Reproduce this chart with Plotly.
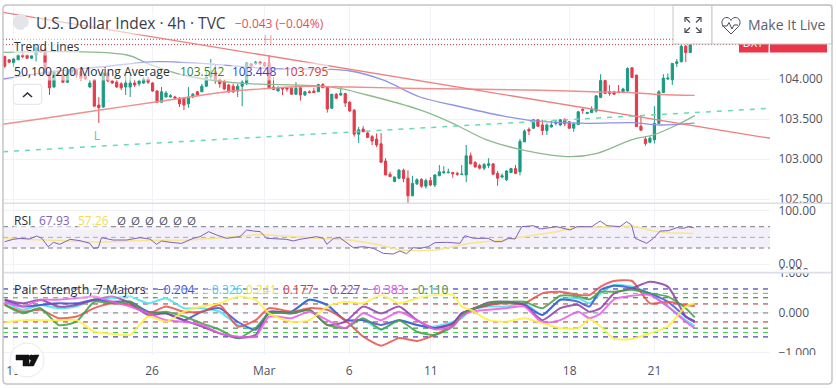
import plotly.graph_objects as go

W, H = 836, 388
FONT = "Open Sans"

open_ = [104.28,104.24,104.20,104.24,104.30,104.30,104.26,104.30,104.36,104.36,
 104.075,103.90,104.10,104.06,103.96,104.09,104.11,104.09,104.04,103.90,
 103.99,103.675,103.65,104.075,103.975,103.96,103.94,103.90,103.90,103.95,
 103.94,103.95,104.00,103.95,103.85,103.71,103.775,103.775,103.775,103.76,
 103.76,103.69,103.775,103.84,103.84,103.91,104.025,104.09,103.99,103.96,
 103.925,103.91,103.85,103.91,103.94,104.19,104.19,104.21,104.20,104.20,
 103.90,103.85,103.89,103.89,103.885,103.81,103.89,103.80,103.84,103.85,
 103.84,103.93,103.90,103.635,103.81,103.80,103.82,103.71,103.61,103.31,
 103.375,103.325,103.28,103.25,103.19,102.975,102.81,102.72,102.76,102.86,
 102.76,102.54,102.69,102.745,102.66,102.73,102.675,102.79,102.83,102.83,
 102.83,102.82,102.805,102.80,103.04,102.955,102.92,102.885,102.92,102.94,
 102.82,102.775,102.74,102.83,102.88,102.84,103.215,103.37,103.385,103.49,
 103.425,103.355,103.40,103.445,103.425,103.495,103.465,103.385,103.43,103.62,
 103.57,103.58,103.60,103.77,103.98,103.84,103.84,103.84,103.83,103.85,
 104.14,104.05,103.41,103.25,103.21,103.24,103.445,103.83,104.00,103.99,
 104.195,104.215,104.41,104.33]
high = [104.29,104.25,104.26,104.31,104.36,104.31,104.30,104.41,104.375,104.40,
 104.09,104.11,104.11,104.09,104.14,104.15,104.14,104.11,104.06,103.99,
 104.00,103.775,104.09,104.09,103.99,103.99,103.96,104.075,104.075,103.99,
 103.99,104.025,104.025,103.96,103.86,103.90,103.85,103.81,103.79,103.775,
 103.775,103.90,103.825,103.85,103.94,104.11,104.25,104.175,104.01,103.99,
 103.94,103.94,103.94,103.99,104.21,104.20,104.225,104.225,104.21,104.30,
 104.025,103.91,103.90,103.90,103.90,103.96,103.90,103.85,103.86,103.89,
 103.94,103.95,103.91,103.81,103.825,103.90,103.825,103.725,103.625,103.40,
 103.41,103.34,103.30,103.32,103.325,103.01,102.84,102.78,102.875,102.88,
 102.86,102.79,102.76,102.76,102.755,102.775,102.81,102.925,102.91,102.88,
 102.84,102.84,102.925,103.175,103.08,102.975,102.94,102.95,103.01,102.94,
 102.85,102.82,102.86,102.89,102.925,103.25,103.37,103.395,103.50,103.495,
 103.49,103.445,103.48,103.475,103.50,103.51,103.475,103.455,103.60,103.645,
 103.59,103.66,103.795,104.06,103.99,103.925,103.85,103.925,103.89,104.145,
 104.15,104.05,103.545,103.28,103.29,103.66,103.86,104.06,104.07,104.20,
 104.25,104.425,104.425,104.44]
low = [104.14,104.20,104.15,104.24,104.26,104.25,104.25,104.22,104.325,104.06,
 103.80,103.89,104.05,103.95,103.95,104.04,104.01,103.975,103.99,103.89,
 103.66,103.45,103.64,103.96,103.94,103.89,103.86,103.80,103.775,103.90,
 103.91,103.94,103.94,103.84,103.70,103.71,103.775,103.77,103.75,103.65,
 103.61,103.64,103.76,103.79,103.84,103.90,103.99,103.94,103.89,103.86,
 103.825,103.825,103.775,103.66,103.925,104.15,104.175,104.175,104.15,103.89,
 103.86,103.85,103.80,103.84,103.80,103.80,103.73,103.79,103.825,103.825,
 103.84,103.89,103.58,103.625,103.75,103.79,103.65,103.59,103.28,103.20,
 103.34,103.26,103.175,103.15,102.95,102.80,102.775,102.71,102.75,102.71,
 102.45,102.54,102.675,102.64,102.63,102.66,102.65,102.79,102.81,102.82,
 102.765,102.79,102.80,102.71,102.93,102.895,102.87,102.86,102.885,102.80,
 102.665,102.76,102.725,102.825,102.81,102.795,103.21,103.30,103.375,103.40,
 103.30,103.30,103.395,103.42,103.41,103.41,103.375,103.34,103.425,103.565,
 103.56,103.575,103.58,103.76,103.815,103.79,103.80,103.825,103.825,103.84,
 104.01,103.40,103.355,103.165,103.195,103.195,103.44,103.83,103.99,103.925,
 104.15,104.21,104.21,104.325]
close = [104.16,104.21,104.25,104.30,104.28,104.26,104.29,104.39,104.34,104.075,
 103.89,104.09,104.06,103.96,104.11,104.14,104.05,104.01,104.00,103.95,
 103.66,103.64,104.075,103.975,103.95,103.90,103.89,103.95,103.95,103.925,
 103.975,104.00,103.96,103.85,103.71,103.84,103.825,103.79,103.76,103.69,
 103.675,103.775,103.81,103.80,103.91,104.025,104.06,103.99,103.94,103.875,
 103.84,103.84,103.91,103.96,104.20,104.16,104.21,104.19,104.16,103.89,
 103.87,103.89,103.875,103.875,103.81,103.885,103.80,103.84,103.83,103.83,
 103.93,103.89,103.625,103.81,103.76,103.82,103.70,103.60,103.31,103.365,
 103.34,103.27,103.225,103.175,102.96,102.80,102.78,102.775,102.86,102.755,
 102.54,102.695,102.74,102.66,102.73,102.675,102.80,102.84,102.84,102.835,
 102.815,102.81,102.81,103.04,102.94,102.90,102.885,102.93,102.94,102.81,
 102.76,102.79,102.85,102.88,102.82,103.22,103.35,103.35,103.49,103.41,
 103.355,103.425,103.425,103.46,103.49,103.44,103.385,103.44,103.59,103.61,
 103.58,103.62,103.79,103.98,103.82,103.82,103.81,103.83,103.875,104.13,
 104.02,103.405,103.36,103.195,103.26,103.445,103.84,104.01,104.01,104.195,
 104.215,104.41,104.33,104.43]

ma_red_x = [-0.4,10.1,21.3,34,43.6,50.9,58.8,65.9,77.1,92.7,106,119.5,132.9,139.5,146.2,154]
ma_red_y = [103.434,103.519,103.613,103.716,103.794,103.85,103.881,103.906,103.90,103.881,103.871,103.859,103.838,103.831,103.806,103.795]
ma_blue_x = [-0.4,10.1,21.3,33.1,43.6,58.5,77.1,84.4,92.7,100,111.2,117.9,129.9,140.2,146.2,154]
ma_blue_y = [104.0,104.09,104.15,104.215,104.195,104.133,104.1,103.988,103.775,103.675,103.538,103.479,103.446,103.454,103.425,103.448]
ma_green_x = [-0.4,27.3,31.8,39.8,50.9,73.3,80.9,92.7,100,107.6,115,126.2,132.2,140.2,144.7,150,154]
ma_green_y = [104.334,104.3,104.196,104.05,103.954,103.896,103.8,103.613,103.446,103.238,103.121,103.029,103.071,103.246,103.3,103.425,103.542]

X_LEFT, X_RIGHT = -0.38, 170.8
trend_red_y = [104.834, 103.259]
trend_green_y = [103.091, 103.634]
dotted_levels = [104.43, 104.497]
last_price = 104.43
price_ticks = [102.5, 103.0, 103.5, 104.0]

rsi_x = [0,1.9,3.4,5.6,7.1,8.3,9.7,10.9,12.3,14.6,16.8,19,19.8,20.9,21.6,24.2,27.2,30.2,32.4,33.9,35,36.9,39.5,42.1,43.6,45.5,47.3,49.5,52.5,54,55.5,57,58.5,62.9,64.4,65.9,69.6,71.1,71.9,73.4,74.8,77.8,80,82.3,84.5,86.7,88.2,89.7,91.2,92.7,94.5,96,98.6,101.6,102.7,104.6,107.9,109.4,110.9,112.4,113.9,115.4,118,119.5,123.2,126.2,127.7,131,132.9,134.4,137.3,138.8,139.9,140.7,143.3,144.8,146.3,148.1,150,151.5,152.6,153.8]
rsi_y = [41.9,46.3,48.2,46.9,52.5,48.2,32.5,40.7,36.9,46.3,43.8,38.8,29.4,30.6,49.4,45,45,49.4,46.9,36.9,43.2,40.7,38.8,48.2,51.3,60.7,54.4,48.2,51.3,63.8,61.9,60.7,48.2,46.3,43.2,46.3,51.3,48.2,36.9,48.2,49.4,30.6,32.5,29.4,20,18.8,24.4,19.4,30.6,29.4,32.5,40,40.7,38.8,53.2,48.2,48.2,41.9,41.9,48.2,46.9,70,71.9,65.7,70,63.8,70,70,80.7,71.9,70,79.4,73.2,48.2,38.8,48.2,61.9,62.5,68.2,66.9,70,67.93]
rsi_ma_x = [0,3.4,9.4,21.3,28.7,40.6,47.3,57,69.6,77.1,83,88.2,92.7,96.4,100.1,103.8,111.3,118,123.2,126.9,133.6,140.3,144.8,147.7,153.8]
rsi_ma_y = [48.2,46.3,45,40.7,43.8,45,48.2,55.7,48.2,45,36.9,26.3,25,26.3,32.5,38.8,45,54.4,60.7,68.2,70,71.3,61.9,58.8,57.26]
rsi_levels = [70, 50, 30]
rsi_ticks = [0, 100]

pair_x = [0,4,8,12,16,20,24,28,32,36,40,44,48,52,56,59,64,68,72,76,80,84,88,92,96,100,102,104,108,112,116,120,124,128,130.5,133,136,140,144,148,152,154]
pair_blue = [.33,.16,.20,.24,.24,.33,.28,.28,.03,-.01,-.18,.03,.12,-.22,-.42,-.01,.03,.33,.20,-.18,-.18,-.30,-.18,-.30,-.38,-.26,-.01,.08,.20,.26,.20,-.05,.33,.28,.16,.58,.68,.62,.49,.28,-.09,-.204]
pair_cyan = [.28,.08,.20,.12,.16,.33,.37,.41,.24,.37,.12,.12,.03,-.30,-.38,-.01,.03,.34,.18,-.18,-.18,-.42,-.18,-.30,-.34,-.22,-.13,.08,.16,.16,.24,-.05,.33,.37,.24,.49,.70,.66,.49,.16,-.18,-.326]
pair_yellow = [-.23,-.18,-.18,-.18,-.18,-.47,-.52,-.55,-.09,-.22,.03,.16,.24,.41,.33,-.01,-.22,-.18,.16,.28,.24,.45,.24,.37,.45,.45,.16,.08,-.18,-.22,-.13,-.26,-.38,-.38,-.16,-.34,-.65,-.65,-.51,-.34,.16,.241]
pair_red = [.20,.03,.08,-.13,-.09,.12,.24,.20,-.01,.16,.03,.03,.20,-.34,-.18,.12,.03,.12,.08,-.18,-.59,-.82,-.63,-.70,-.55,-.30,-.05,.08,.20,.24,.24,.49,.53,.45,.45,.66,.80,.80,.24,.28,.20,.177]
pair_purple = [.33,.24,.33,.16,.20,.33,.41,.24,-.05,-.01,-.18,-.34,-.51,-.63,-.55,.03,-.01,.08,-.30,-.22,.16,-.01,.16,-.18,-.38,-.26,-.01,.08,.26,.28,.20,-.18,.12,.20,.03,.12,.49,.62,.78,.66,-.09,-.227]
pair_magenta = [.28,.16,.33,.33,.37,.41,.28,.16,-.01,-.18,-.22,-.30,-.51,-.59,-.59,-.09,-.13,.03,-.18,-.38,-.01,-.18,.03,-.18,-.41,-.34,-.09,.03,.08,.12,.16,-.24,-.18,.03,-.13,-.01,.34,.43,.45,.16,-.22,-.383]
pair_green = [.20,-.01,.12,-.30,-.22,.28,.24,.28,-.01,.03,-.09,-.26,-.42,-.63,-.38,-.01,-.01,.08,-.30,-.38,-.13,-.41,-.18,-.47,-.55,-.34,-.05,.08,.24,.28,.28,.12,.43,.41,.34,.53,.53,.58,.49,.41,.12,-.11]
pair_series = [("#45e0f0",pair_cyan),("#3f4fd8",pair_blue),("#e8504a",pair_red),
               ("#8e3fa8",pair_purple),("#43a047",pair_green),("#e85be8",pair_magenta),("#fff03d",pair_yellow)]
pair_levels = [(.6,"#1616a8"),(.49,"#3ed13e"),(.38,"#157a15"),(.225,"#c02020"),(0,"#777777"),
               (-.225,"#c02020"),(-.38,"#157a15"),(-.49,"#3ed13e"),(-.6,"#1616a8")]
pair_ticks = [-1, 0, 1]

time_tick_pos = [1.9,32.9,57.9,76.9,95.1,126.1,145]
time_tick_txt = ["19","26","Mar","6","11","18","21"]

fig = go.Figure()
def px(x): return x / W
def py(y): return 1 - y / H

lvl_x = [X_LEFT, X_RIGHT]
for lv in dotted_levels:
    fig.add_trace(go.Scatter(x=lvl_x, y=[lv, lv], mode="lines", line=dict(color="#b4403f", width=1, dash="1px,2px"), yaxis="y"))

fig.add_trace(go.Scatter(x=ma_green_x, y=ma_green_y, mode="lines", line=dict(color="#8db98d", width=1.3, shape="spline"), yaxis="y"))
fig.add_trace(go.Scatter(x=ma_blue_x, y=ma_blue_y, mode="lines", line=dict(color="#8f93e2", width=1.3, shape="spline"), yaxis="y"))
fig.add_trace(go.Scatter(x=ma_red_x, y=ma_red_y, mode="lines", line=dict(color="#ee8f8f", width=1.4, shape="spline"), yaxis="y"))
fig.add_trace(go.Scatter(x=lvl_x, y=trend_red_y, mode="lines", line=dict(color="#ee7f7f", width=1.3), yaxis="y"))
fig.add_trace(go.Scatter(x=lvl_x, y=trend_green_y, mode="lines", line=dict(color="#66dcae", width=1.5, dash="5px,6px"), yaxis="y"))

fig.add_trace(go.Candlestick(x=list(range(len(open_))), open=open_, high=high, low=low, close=close,
    increasing=dict(line=dict(color="#1a9a82", width=1), fillcolor="#1a9a82"),
    decreasing=dict(line=dict(color="#e23c4c", width=1), fillcolor="#e23c4c"),
    whiskerwidth=0, yaxis="y", xaxis="x"))

fig.add_trace(go.Scatter(x=[58.8, 20.6], y=[104.475, 103.275], mode="text", text=["H", "L"],
    textfont=dict(family=FONT, size=12, color=["#f0a5a5", "#5cc8a0"]), yaxis="y"))
fig.add_trace(go.Scatter(x=[167, 177], y=[last_price, last_price], mode="text", text=["DXY", f"{last_price:.3f}"],
    textfont=dict(family=FONT, size=11, color="white"), cliponaxis=False, yaxis="y"))

for lv in rsi_levels:
    fig.add_trace(go.Scatter(x=lvl_x, y=[lv, lv], mode="lines", yaxis="y2",
        line=dict(color="#787b86" if lv != 50 else "#a9acb5", width=1, dash="5px,4px")))
fig.add_trace(go.Scatter(x=rsi_ma_x, y=rsi_ma_y, mode="lines", line=dict(color="#f8e58c", width=1.5), yaxis="y2"))
fig.add_trace(go.Scatter(x=rsi_x, y=rsi_y, mode="lines", line=dict(color="#7e62b8", width=1), yaxis="y2"))

for lv, c in pair_levels:
    fig.add_trace(go.Scatter(x=lvl_x, y=[lv, lv], mode="lines", yaxis="y3", line=dict(color=c, width=1, dash="5px,5px")))
for c, vals in pair_series:
    fig.add_trace(go.Scatter(x=pair_x, y=vals, mode="lines", yaxis="y3", opacity=0.85,
        line=dict(color=c, width=2, shape="spline", smoothing=0.6)))

axis_font = dict(family=FONT, size=12, color="#50535e")
grid = "#f0f2f7"
def rect(x0, y0, x1, y1, fill=None, line=None, lw=1, layer="above"):
    return dict(type="rect", xref="paper", yref="paper", x0=px(x0), x1=px(x1), y0=py(y0), y1=py(y1),
                fillcolor=fill or "rgba(0,0,0,0)", line=dict(color=line or "rgba(0,0,0,0)", width=lw if line else 0), layer=layer)
def path(pts, color="#4a4d57", lw=1.2, fill=None, close_path=False):
    s = "M " + " L ".join(f"{px(a):.5f} {py(b):.5f}" for a, b in pts) + (" Z" if close_path else "")
    return dict(type="path", xref="paper", yref="paper", path=s, layer="above",
                fillcolor=fill or "rgba(0,0,0,0)", line=dict(color=color, width=lw))
def circle(cx, cy, r, fill, line=None):
    return dict(type="circle", xref="paper", yref="paper", x0=px(cx-r), x1=px(cx+r), y0=py(cy+r), y1=py(cy-r),
                fillcolor=fill, line=dict(color=line or fill, width=1), layer="above")
def rounded(x0, y0, x1, y1, r, line, lw=1.5, fill="rgba(0,0,0,0)"):
    s = (f"M {px(x0+r)} {py(y0)} L {px(x1-r)} {py(y0)} Q {px(x1)} {py(y0)} {px(x1)} {py(y0+r)} "
         f"L {px(x1)} {py(y1-r)} Q {px(x1)} {py(y1)} {px(x1-r)} {py(y1)} L {px(x0+r)} {py(y1)} "
         f"Q {px(x0)} {py(y1)} {px(x0)} {py(y1-r)} L {px(x0)} {py(y0+r)} Q {px(x0)} {py(y0)} {px(x0+r)} {py(y0)} Z")
    return dict(type="path", xref="paper", yref="paper", path=s, layer="above", fillcolor=fill, line=dict(color=line, width=lw))

shapes = [
    dict(type="rect", xref="paper", yref="y2", x0=px(3), x1=px(770), y0=30, y1=70,
         fillcolor="rgba(126,87,194,0.09)", line=dict(width=0), layer="below"),
    rect(739, 37, 768.5, 52.5, fill="#ec3548", layer="below"),
    rect(770, 37, 827, 52.5, fill="#ec3548", layer="below"),
    rect(771, 203, 832, 205.5, fill="white"),
    rect(771, 269.5, 832, 272.5, fill="white"),
    rect(771, 355, 832, 362, fill="white"),
    path([(4, 203.3), (832, 203.3)], color="#dcdfe6", lw=1.6),
    path([(4, 272.6), (832, 272.6)], color="#dcdfe6", lw=1.6),
    rect(673, 5, 712, 44, fill="white", line="#c9c9c9", lw=1),
    rect(712, 5, 832, 44, fill="white", line="#c9c9c9", lw=1),
    rounded(3, 5, 832, 384, 4, "#c5c5c5", 1.5),
    # full-screen icon
    path([(685, 22), (685, 17.5), (689.5, 17.5)]), path([(685.5, 18), (690, 22.5)]),
    path([(696.5, 17.5), (701, 17.5), (701, 22)]), path([(700.5, 18), (696, 22.5)]),
    path([(685, 28), (685, 32.5), (689.5, 32.5)]), path([(685.5, 32), (690, 27.5)]),
    path([(696.5, 32.5), (701, 32.5), (701, 28)]), path([(700.5, 32), (696, 27.5)]),
    # heart icon
    dict(type="path", xref="paper", yref="paper", layer="above", fillcolor="rgba(0,0,0,0)", line=dict(color="#4a4d57", width=1),
         path=(f"M {px(731)} {py(34)} L {px(723.5)} {py(26.5)} C {px(720)} {py(22)} {px(723)} {py(17)} {px(727)} {py(17.5)} "
               f"C {px(729)} {py(17.8)} {px(730.5)} {py(19)} {px(731)} {py(20.5)} C {px(731.5)} {py(19)} {px(733)} {py(17.8)} {px(735)} {py(17.5)} "
               f"C {px(739)} {py(17)} {px(742)} {py(22)} {px(738.5)} {py(26.5)} Z")),
    path([(722, 26), (727, 26), (729, 22.5), (732, 29), (734, 25), (738, 25)], lw=1),
    # collapse button
    rounded(13.3, 84.3, 41.7, 104.3, 3, "#dfe1e8", 1, fill="rgba(255,255,255,0.85)"),
    path([(23, 97), (27.5, 93), (32, 97)], color="#2a2e39", lw=1.6),
    # symbol badge
    circle(20.7, 22, 7.5, "#e4e5ea"),
    # TV logo
    circle(27, 360, 17, "white", "#e6e8ee"),
    path([(16, 355), (29, 355), (29, 366), (23, 366), (23, 360), (16, 360)], color="#111", lw=0.5, fill="#111", close_path=True),
    circle(31.5, 357.5, 2.4, "#111"),
    path([(33.5, 355), (39, 355), (33.5, 366), (28.5, 366)], color="#111", lw=0.5, fill="#111", close_path=True),
]

def note(text, x, y, size=12, color="#2a2e39", bg="rgba(255,255,255,0.55)"):
    return dict(text=text, xref="paper", yref="paper", x=px(x), y=py(y), xanchor="left", yanchor="middle",
                showarrow=False, font=dict(family=FONT, size=size, color=color), bgcolor=bg, borderpad=0)

notes = [
    note("U.S. Dollar Index · 4h · TVC", 34.5, 22.5, 15.5, "#3a3e49"),
    note("−0.043 (−0.04%)", 233.5, 23, 12, "#e0505c"),
    note("Trend Lines", 12.5, 46.5),
    note("50,100,200 Moving Average", 12.5, 71, 12.2),
    note("103.542", 179, 71, 12, "#2f8a2f"), note("103.448", 231, 71, 12, "#3a3fc8"), note("103.795", 283, 71, 12, "#d83b3b"),
    note("RSI", 13, 220),
    note("67.93", 38, 220, 12, "#7e62b8"), note("57.26", 77, 220, 12, "#f5dc50"),
    note("Pair Strength, 7 Majors", 12.5, 289.5, 12.4, "#2a2e39", "rgba(255,255,255,0.3)"),
    note("−0.204", 156, 289.5, 12, "#3f4fd8", "rgba(255,255,255,0.3)"),
    note("−0.326", 204, 289.5, 12, "#35dcf0", "rgba(255,255,255,0.3)"),
    note("0.241", 245, 289.5, 12, "#f2e61a", "rgba(255,255,255,0.3)"),
    note("0.177", 282, 289.5, 12, "#d83b3b", "rgba(255,255,255,0.3)"),
    note("−0.227", 322, 289.5, 12, "#8e3fa8", "rgba(255,255,255,0.3)"),
    note("−0.383", 366, 289.5, 12, "#e04fe0", "rgba(255,255,255,0.3)"),
    note("−0.110", 410, 289.5, 12, "#3a9a3a", "rgba(255,255,255,0.3)"),
    note("Make It Live", 746.5, 25, 14, "#5d606b", "rgba(0,0,0,0)"),
    dict(text="D", xref="paper", yref="paper", x=px(20.7), y=py(22), showarrow=False,
         font=dict(family=FONT, size=10, color="white")),
]
for xv in [117, 131, 145, 159, 173, 187]:
    notes.append(note("Ø", xv - 1, 220, 11.5, "#50535e", "rgba(0,0,0,0)"))

fig.update_layout(
    width=W, height=H, margin=dict(l=0, r=0, t=0, b=0, autoexpand=False), showlegend=False, hovermode=False,
    paper_bgcolor="white", plot_bgcolor="white", shapes=shapes, annotations=notes,
    xaxis=dict(domain=[px(3), px(770)], range=[X_LEFT, X_RIGHT], type="linear", anchor="y3", automargin=False,
               rangeslider=dict(visible=False), tickmode="array", tickvals=time_tick_pos, ticktext=time_tick_txt,
               tickfont=axis_font, showgrid=True, gridcolor=grid, gridwidth=1, zeroline=False,
               ticks="outside", ticklen=5, tickcolor="rgba(0,0,0,0)", showline=False),
    yaxis=dict(domain=[py(203), py(5)], range=[102.45, 104.925], anchor="x", side="right", automargin=False,
               tickmode="array", tickvals=price_ticks, tickformat=".3f", tickfont=axis_font,
               showgrid=True, gridcolor=grid, zeroline=False, ticks="outside", ticklen=5, tickcolor="rgba(0,0,0,0)"),
    yaxis2=dict(domain=[py(272), py(204)], range=[-15, 112.6], anchor="x", side="right", automargin=False,
               tickmode="array", tickvals=rsi_ticks, tickformat=".2f", tickfont=axis_font,
               showgrid=True, gridcolor=grid, zeroline=False, ticks="outside", ticklen=5, tickcolor="rgba(0,0,0,0)"),
    yaxis3=dict(domain=[py(354.5), py(273)], range=[-1.04, 1.0], anchor="x", side="right", automargin=False,
               tickmode="array", tickvals=pair_ticks, tickformat=".3f", tickfont=axis_font,
               showgrid=True, gridcolor=grid, zeroline=False, ticks="outside", ticklen=5, tickcolor="rgba(0,0,0,0)"),
)
fig.write_html("out.html", config={"displayModeBar": False},
               post_script="document.body.style.margin='0';document.documentElement.style.overflow='hidden';")
